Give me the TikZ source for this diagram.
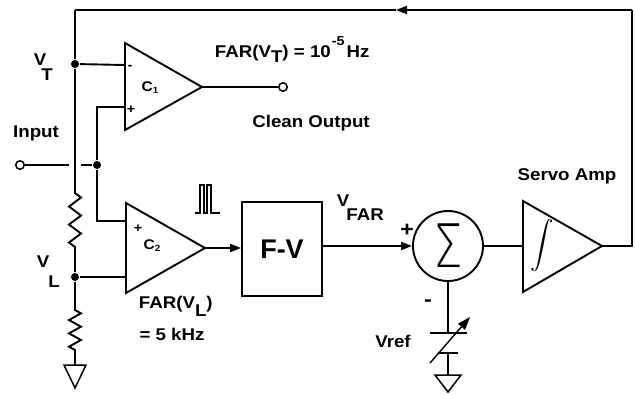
\documentclass[tikz,border=0pt]{standalone}
\usepackage[no-math]{fontspec}
\setmainfont{Liberation Sans}[FakeStretch=1.1]
\newfontfamily\fvfont{Liberation Sans}
\newfontfamily\sigfont{DejaVu Sans ExtraLight}
\usetikzlibrary{arrows.meta}
\begin{document}
\begin{tikzpicture}[x=1pt,y=-1pt,line width=1.9pt,line join=miter,
 lbl/.style={font=\fontsize{17}{17}\selectfont\bfseries,inner sep=0pt},
 sm/.style={font=\fontsize{13}{13}\selectfont\bfseries,inner sep=0pt},
 big/.style={font=\fontsize{21}{21}\selectfont\bfseries,inner sep=0pt},
 dot/.style={circle,fill=black,draw=none,inner sep=0pt,minimum size=8pt},
 term/.style={circle,draw,fill=white,inner sep=0pt,minimum size=8.5pt,line width=1.5pt},
 tip/.style={-{Triangle[length=11pt,width=8pt]}},
 gnd/.style={line width=1.5pt}]
\useasboundingbox (0,0) rectangle (635,394);
% key points
\coordinate (top) at (75,10);
\coordinate (topR) at (632,10);
\coordinate (aw) at (396,10);
\coordinate (rc) at (632,246);
\node[dot] (vt) at (75,64) {};
\node[dot] (vl) at (75,277) {};
\node[dot] (jin) at (97,165) {};
\node[term] (in) at (20,165) {};
\coordinate (gapL) at (69,165);
\coordinate (gapR) at (81,165);
\coordinate (r1a) at (75,193);
\coordinate (r1b) at (75,247);
\coordinate (r2a) at (75,310);
\coordinate (r2b) at (75,350);
\coordinate (g1) at (75,365);
% comparator C1
\coordinate (c1a) at (125,43);
\coordinate (c1b) at (125,130);
\coordinate (c1o) at (202,87);
\coordinate (c1m) at (125,65);
\coordinate (c1p) at (125,107);
\node[term] (clean) at (283,87) {};
% comparator C2
\coordinate (c2a) at (126,203);
\coordinate (c2b) at (126,293);
\coordinate (c2o) at (205,248);
\coordinate (c2p) at (126,221);
\coordinate (c2m) at (126,277);
% F-V, sum, servo
\node[draw,minimum width=80pt,minimum height=94pt,inner sep=0pt] (fv) at (282,249)
  {\fvfont\bfseries\fontsize{27}{27}\selectfont F-V};
\node[circle,draw,minimum size=70pt,inner sep=0pt] (sum) at (448,246)
  {\scalebox{0.78}[1]{\sigfont\fontsize{60}{60}\selectfont Σ}};
\coordinate (sv1) at (523,201);
\coordinate (sv2) at (523,292);
\coordinate (svi) at (523,246);
\coordinate (svo) at (602,246);
\coordinate (bt) at (448,333);
\coordinate (bs) at (448,353);
\coordinate (g2) at (448,375);

% shapes
\draw (c1a) -- (c1o) -- (c1b) -- cycle;
\draw (c2a) -- (c2o) -- (c2b) -- cycle;
\draw (sv1) -- (svo) -- (sv2) -- cycle;

% divider chain
\draw (top) -- (vt) -- (r1a) -- ++(6,4.5) -- ++(-12,9) -- ++(12,9) -- ++(-12,9)
  -- ++(12,9) -- ++(-12,9) -- (r1b) -- (vl) -- (r2a) -- ++(6,3.33) -- ++(-12,6.67)
  -- ++(12,6.67) -- ++(-12,6.67) -- ++(12,6.67) -- ++(-12,6.67) -- (r2b) -- (g1);
\draw[gnd] (g1) ++(-11,0) -- ++(22,0) -- ++(-11,23) -- cycle;

% inputs
\draw (vt) -- (c1m);
\draw (vl) -- (c2m);
\draw (in) -- (gapL);
\draw (gapR) -- (jin);
\draw (c1p) -| (jin);
\draw (jin) |- (c2p);
\draw (c1o) -- (clean);

% signal path
\draw[tip] (c2o) -- (fv.west |- c2o);
\draw[tip] (fv.east |- sum.west) -- (sum.west);
\draw (sum.east) -- (svi);
\draw (svo) -- (rc) -- (topR);
\draw[tip] (topR) -- (aw);
\draw (aw) -- (top);

% Vref source
\draw (sum.south) -- (bt);
\draw (430,333) -- (467,333);
\draw (439,353) -- (458,353);
\draw (bs) -- (g2);
\draw[gnd] (g2) ++(-13,0) -- ++(26,0) -- ++(-13,17) -- cycle;
\draw[line width=1.4pt,-{Triangle[length=13pt,width=9pt]}] (430,363) -- (470,317);

% pulse symbol
\draw[line width=1.1pt] (195,213) -- (200,213) -- (200,185) -- (204,185) -- (204,213)
  -- (207,213) -- (207,185) -- (211,185) -- (211,213) -- (220,213);

% integrator sign
\node[inner sep=0pt] (intg) at (542,246) {\scalebox{2.35}{$\displaystyle\int$}};

% labels
\node[lbl,anchor=north west] (vtl) at (33,53) {V\kern-5pt\raisebox{-15pt}{T}};
\node[lbl,anchor=north west] (vll) at (36,255) {V\kern-1pt\raisebox{-20pt}{L}};
\node[lbl] (inl) at (36,133) {Input};
\node[font=\fontsize{14}{14}\selectfont\bfseries,inner sep=0pt] (c1l) at (150,88)
  {C\raisebox{-2pt}{\fontsize{9}{9}\selectfont 1}};
\node[font=\fontsize{14}{14}\selectfont\bfseries,inner sep=0pt] (c2l) at (152,246)
  {C\raisebox{-2pt}{\fontsize{9}{9}\selectfont 2}};
\node[sm] (c1ms) at (130,67) {-};
\node[sm] (c1ps) at (131,110) {+};
\node[sm] (c2ps) at (138,229) {+};
\node[lbl,anchor=base west] (fart) at (214,57)
  {FAR(V\raisebox{-5pt}{T}) = 10\kern1pt\raisebox{12pt}{\fontsize{13}{13}\selectfont -5}\kern2pt Hz};
\node[lbl,anchor=north west] (farl) at (138,295) {FAR(V\raisebox{-8pt}{L})};
\node[lbl] (cleanl) at (311,123) {Clean Output};
\node[lbl] (khz) at (172,334) {= 5 kHz};
\node[lbl,anchor=north west] (vfar) at (336,194) {V\kern-3pt\raisebox{-14pt}{FAR}};
\node[big] (plus) at (407,230) {+};
\node[big] (minus) at (428,303) {-};
\node[lbl] (vref) at (393,341) {Vref};
\node[lbl] (servo) at (567,176) {Servo Amp};
\end{tikzpicture}
\end{document}
